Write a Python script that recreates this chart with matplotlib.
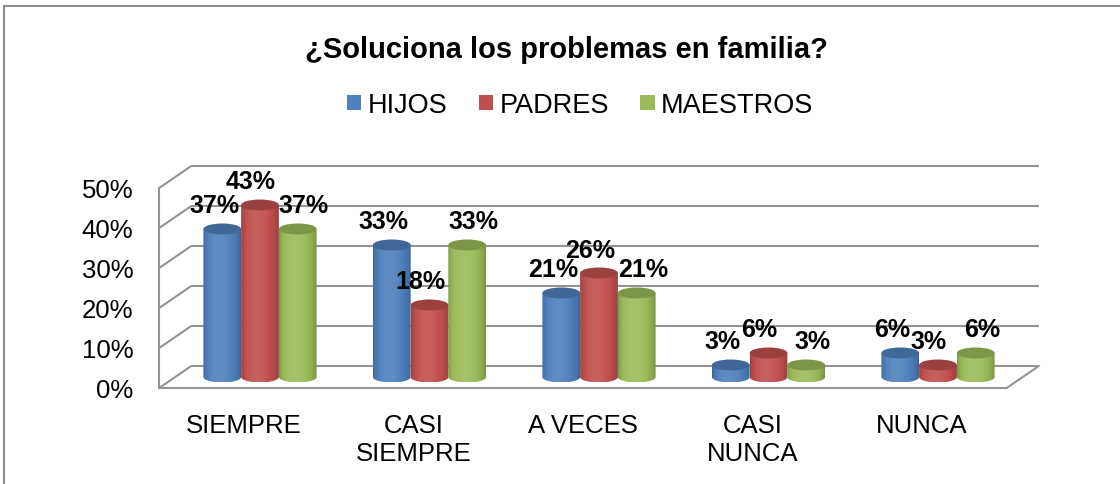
import numpy as np
import matplotlib
matplotlib.use('Agg')
import matplotlib.pyplot as plt
from matplotlib.path import Path
from matplotlib.patches import Patch, Ellipse, PathPatch
from matplotlib.lines import Line2D
from matplotlib.colors import to_rgb

plt.rcParams['font.family'] = ['Liberation Sans', 'DejaVu Sans']

# ---------------- data ----------------
title = '¿Soluciona los problemas en familia?'
categories = ['SIEMPRE', 'CASI\nSIEMPRE', 'A VECES', 'CASI\nNUNCA', 'NUNCA']
series_names = ['HIJOS', 'PADRES', 'MAESTROS']
hijos = [37, 33, 21, 3, 6]
padres = [43, 18, 26, 6, 3]
maestros = [37, 33, 21, 3, 6]
y_ticks = [0, 10, 20, 30, 40, 50]

# ---------------- style ----------------
colors = ['#4F81BD', '#C0504D', '#9BBB59']
label_dx_px = [-8, -9, 6]          # per-series horizontal nudge of value labels
grid_color = '#949494'
W, H, DPI = 1120, 485, 100

fig = plt.figure(figsize=(W / DPI, H / DPI), dpi=DPI)
fig.patch.set_facecolor('white')

# axes box in pixels
L, R, T, B = 140, 1060, 150, 400
ax = fig.add_axes([L / W, 1 - B / H, (R - L) / W, (B - T) / H])
px_per_cat = 169.5
px_per_pct = 4.0
x0_px = 260
base_px = 378
ax.set_xlim((L - x0_px) / px_per_cat, (R - x0_px) / px_per_cat)
ax.set_ylim((base_px - B) / px_per_pct, (base_px - T) / px_per_pct)
ax.axis('off')

# 3-D depth offsets (data units)
ddx = 16 / px_per_cat
ddy = 11 / px_per_pct
n = len(categories)
xl, xr = -0.5, n - 0.5
glw = 1.5

# back wall gridlines + left side wall
for v in y_ticks:
    ax.plot([xl + ddx, xr + ddx], [v + ddy, v + ddy], color=grid_color, lw=glw,
            solid_capstyle='butt', clip_on=False, zorder=1)
    ax.plot([xl - ddx, xl + ddx], [v - ddy, v + ddy], color=grid_color, lw=glw,
            solid_capstyle='butt', clip_on=False, zorder=1)
ax.plot([xl - ddx, xl - ddx], [-ddy, y_ticks[-1] - ddy], color=grid_color, lw=glw,
        clip_on=False, zorder=1)
# floor
ax.plot([xl - ddx, xr - ddx, xr + ddx], [-ddy, -ddy, ddy], color=grid_color, lw=glw,
        clip_on=False, zorder=1)


def shade(col, npx=80):
    c = np.array(to_rgb(col))
    t = np.linspace(0, 1, npx)
    k = 0.76 + 0.32 * np.sin(np.pi * t ** 0.8) ** 0.6
    k = k[:, None]
    out = np.where(k <= 1, c * k, c + (1 - c) * (k - 1) * 1.2)
    return np.clip(out, 0, 1)[None, :, :]


def top_shade(col):
    c = np.array(to_rgb(col))
    return tuple(np.clip(c * 0.80, 0, 1))


series = [hijos, padres, maestros]
w = 0.2225
e = 5.5 / px_per_pct
th = np.linspace(np.pi, 2 * np.pi, 60)
for s, (vals, col) in enumerate(zip(series, colors)):
    grad = shade(col)
    for i, v in enumerate(vals):
        xc = i + (s - 1) * w
        xa, xb = xc - w / 2, xc + w / 2
        bx = xc + (w / 2) * np.cos(th)
        by = e * np.sin(th)
        verts = [(xa, v)] + list(zip(bx, by)) + [(xb, v), (xa, v)]
        codes = [Path.MOVETO] + [Path.LINETO] * (len(verts) - 2) + [Path.CLOSEPOLY]
        clip = PathPatch(Path(verts, codes), facecolor='none', edgecolor='none',
                         clip_on=False)
        ax.add_patch(clip)
        im = ax.imshow(grad, extent=[xa, xb, -e, v], aspect='auto',
                       interpolation='bilinear', zorder=3 + s)
        im.set_clip_path(clip)
        ax.add_patch(Ellipse((xc, v), w, 2 * e, facecolor=top_shade(col),
                             edgecolor='none', zorder=3.5 + s, clip_on=False))
        ax.annotate(f'{v}%', (xc, v),
                    xytext=(label_dx_px[s] * 72 / DPI, 23.5 * 72 / DPI),
                    textcoords='offset points', ha='center', va='center',
                    fontsize=18, fontweight='bold', color='black', zorder=10,
                    annotation_clip=False)

ax.set_xlim((L - x0_px) / px_per_cat, (R - x0_px) / px_per_cat)
ax.set_ylim((base_px - B) / px_per_pct, (base_px - T) / px_per_pct)

# y tick labels on the front plane
for v in y_ticks:
    ax.annotate(f'{v}%', (xl - ddx, v - ddy), xytext=(-26 * 72 / DPI, -9 * 72 / DPI),
                textcoords='offset points', ha='right', va='baseline',
                fontsize=18.5, color='black', annotation_clip=False)

# category labels on the front plane
for i, c in enumerate(categories):
    ax.annotate(c, (i - ddx, -ddy), xytext=(0, -25.5 * 72 / DPI),
                textcoords='offset points', ha='center', va='top',
                fontsize=18.5, color='black', linespacing=1.16,
                multialignment='center', annotation_clip=False)

# title
fig.text(566 / W, 1 - 58 / H, title, ha='center', va='baseline',
         fontsize=21, fontweight='bold')

# legend
handles = [Patch(facecolor=c, edgecolor='none') for c in colors]
fig.legend(handles, series_names, loc='center', bbox_to_anchor=(580 / W, 1 - 106 / H),
           ncol=3, frameon=False, fontsize=19.5, handlelength=0.54,
           handleheight=0.46, handletextpad=0.23, columnspacing=1.15, borderpad=0)

# chart frame (top and left edges visible)
fig.add_artist(Line2D([4 / W, 4 / W], [0, 1 - 7 / H], transform=fig.transFigure,
                      color='#8c8c8c', lw=1.5))
fig.add_artist(Line2D([4 / W, 1], [1 - 7 / H, 1 - 7 / H], transform=fig.transFigure,
                      color='#8c8c8c', lw=1.5))

fig.savefig('out.png', dpi=DPI, facecolor='white')
